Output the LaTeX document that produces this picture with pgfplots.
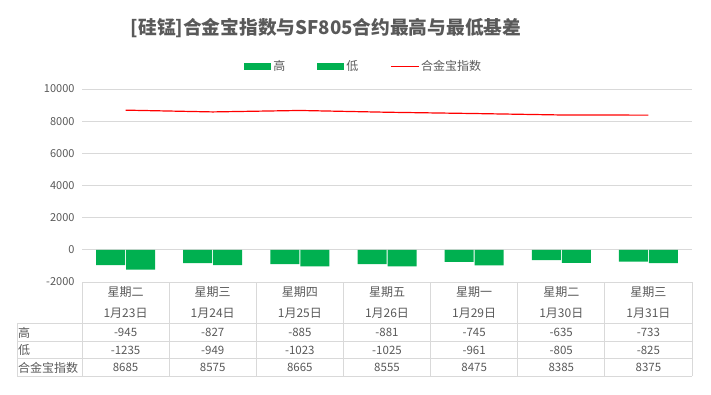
\documentclass[border=0pt]{standalone}
\usepackage{pgfplots}
\pgfplotsset{compat=1.18}
\usepackage{fontspec}
\setmainfont{Noto Sans CJK SC}
\definecolor{barg}{HTML}{00B050}
\definecolor{txt}{HTML}{595959}
\definecolor{grd}{HTML}{D9D9D9}
\begin{document}
\begin{tikzpicture}[x=1pt,y=1pt]
\path (0,0) rectangle (711,394);
\begin{axis}[at={(82pt,112pt)}, anchor=south west, scale only axis,
  width=610pt, height=193pt,
  xmin=-0.5, xmax=6.5, ymin=-2000, ymax=10000,
  ytick={-2000,0,...,10000}, xtick=\empty, scaled y ticks=false,
  axis line style={draw=none}, ymajorgrids,
  major grid style={grd, line width=0.75pt},
  major tick length=0pt,
  yticklabel style={font=\fontsize{11}{13}\selectfont, text=txt, anchor=east, xshift=-4pt},
  /pgf/number format/assume math mode=true, /pgf/number format/1000 sep={},
  legend style={at={(0.462,1.119)}, anchor=center, draw=none, fill=none,
    legend columns=3, font=\fontsize{12}{14}\selectfont, text=txt,
    /tikz/every even column/.append style={column sep=30pt}},
  clip=false,
]
\addplot[ybar, bar width=29pt, bar shift=-15pt, fill=barg, draw=none,
  legend image code/.code={\fill[barg] (0pt,-3.5pt) rectangle (27pt,3.5pt);}]
  coordinates {(0,-945) (1,-827) (2,-885) (3,-881) (4,-745) (5,-635) (6,-733)};
\addlegendentry{高}
\addplot[ybar, bar width=29pt, bar shift=15pt, fill=barg, draw=none,
  legend image code/.code={\fill[barg] (0pt,-3.5pt) rectangle (27pt,3.5pt);}]
  coordinates {(0,-1235) (1,-949) (2,-1023) (3,-1025) (4,-961) (5,-805) (6,-825)};
\addlegendentry{低}
\addplot[red, line width=1.2pt, mark=none,
  legend image code/.code={\draw[red, line width=0.75pt] (0pt,0pt) -- (28pt,0pt);}]
  coordinates {(0,8685) (1,8575) (2,8665) (3,8555) (4,8475) (5,8385) (6,8375)};
\addlegendentry{合金宝指数}
\end{axis}
% title
\node[font=\fontsize{18.7}{21}\selectfont\bfseries, text=txt] at (326,365.5)
  {[硅锰]合金宝指数与SF805合约最高与最低基差};
% table grid
\begin{scope}[grd, line width=0.75pt]
\draw (82,112) -- (692,112);
\foreach \yy in {71,53,36,18} {\draw (17,\yy) -- (692,\yy);}
\draw (17,71) -- (17,18);
\foreach \k in {0,...,7} {\draw ({82+87.143*\k},112) -- ({82+87.143*\k},18);}
\end{scope}
% header and values
\foreach \d/\dt/\h/\l/\v [count=\i from 0] in {
  星期二/1月23日/-945/-1235/8685,
  星期三/1月24日/-827/-949/8575,
  星期四/1月25日/-885/-1023/8665,
  星期五/1月26日/-881/-1025/8555,
  星期一/1月29日/-745/-961/8475,
  星期二/1月30日/-635/-805/8385,
  星期三/1月31日/-733/-825/8375} {
  \pgfmathsetmacro{\cx}{82+87.143*(\i+0.5)}
  \node[font=\fontsize{12}{14}\selectfont, text=txt] at (\cx,102) {\d};
  \node[font=\fontsize{12}{14}\selectfont, text=txt] at (\cx,81) {\dt};
  \node[font=\fontsize{11.5}{13}\selectfont, text=txt] at (\cx,61.5) {\h};
  \node[font=\fontsize{11.5}{13}\selectfont, text=txt] at (\cx,44) {\l};
  \node[font=\fontsize{11.5}{13}\selectfont, text=txt] at (\cx,26.5) {\v};
}
\node[font=\fontsize{12}{14}\selectfont, text=txt, anchor=west, inner sep=1pt] at (17,61.5) {高};
\node[font=\fontsize{12}{14}\selectfont, text=txt, anchor=west, inner sep=1pt] at (17,44) {低};
\node[font=\fontsize{12}{14}\selectfont, text=txt, anchor=west, inner sep=1pt] at (17,26.5) {合金宝指数};
\end{tikzpicture}
\end{document}
